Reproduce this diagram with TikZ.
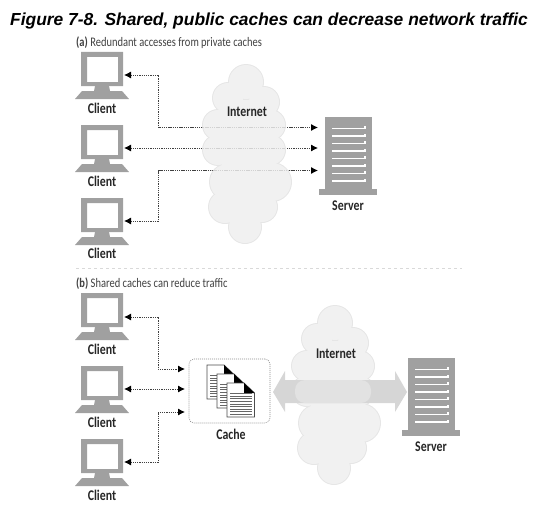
\documentclass[tikz,border=0pt]{standalone}
\usepackage{fontspec}
\setmainfont{Liberation Sans}
\newfontfamily\labelfont[FakeStretch=0.8]{Carlito}
\usetikzlibrary{arrows.meta}
\definecolor{devgray}{HTML}{A0A0A0}
\definecolor{cloudfill}{HTML}{F1F1F1}
\definecolor{cloudedge}{HTML}{E6E6E6}
\definecolor{linkgray}{HTML}{404040}
\definecolor{bandout}{HTML}{D6D6D6}
\definecolor{bandin}{HTML}{E2E2E2}
\tikzset{
  x=1pt,y=-1pt,
  link/.style={draw=linkgray,line width=0.9pt,dash pattern=on 1.3pt off 0.9pt},
  linktips/.style={link,{Latex[length=7pt,width=7pt,black]}-{Latex[length=7pt,width=7pt,black]}},
  faint/.style={draw=cloudedge!80!gray,line width=0.8pt,dash pattern=on 1.3pt off 0.9pt},
  lab/.style={font=\labelfont\bfseries\fontsize{14.8}{16}\selectfont,text=black!85,inner sep=0pt},
  captext/.style={font=\labelfont\fontsize{13.1}{15}\selectfont,text=black!75,inner sep=0pt,anchor=west},
  pics/client/.style={code={
    \fill[devgray,even odd rule] (-21,0) rectangle (21,34) (-15,5) rectangle (16,30);
    \fill[devgray] (-7,34) -- (7,34) -- (8,39) -- (20,39) -- (27,47) -- (-27,47) -- (-20,39) -- (-8,39) -- cycle;
  }},
  pics/serverbox/.style={code={
    \fill[devgray] (0,0) rectangle (47,72);
    \fill[devgray] (-6,72) rectangle (52,78);
    \foreach \k in {0,...,7}{
      \draw[white,line width=1.3pt] (7,11.5+7.5*\k) -- (40,11.5+7.5*\k) -- (40,9+7.5*\k);
    }
  }},
  pics/cloud/.style={code={
    \foreach \cx/\cy/\r in {246/82/17,228/98/15,264/102/15,218/125/15,270/125/15,218/150/15,270/150/15,272/182/19,228/182/18,225/207/16,262/207/15,245/227/16}{
      \fill[cloudedge] (\cx,\cy) circle (\r+1);
    }
    \foreach \cx/\cy/\r in {246/82/17,228/98/15,264/102/15,218/125/15,270/125/15,218/150/15,270/150/15,272/182/19,228/182/18,225/207/16,262/207/15,245/227/16}{
      \fill[cloudfill] (\cx,\cy) circle (\r);
    }
    \fill[cloudfill] (222,100) rectangle (268,215);
  }},
  pics/doc/.style={code={
    \fill[white,draw=black!70,line width=0.8pt] (0,0) -- (17,0) -- (27.5,10) -- (27.5,34) -- (0,34) -- cycle;
    \fill[black] (17,0) -- (27.5,10) -- (17,10) -- cycle;
    \foreach \k in {0,...,8}{
      \draw[black!60,line width=0.8pt] (3,10.5+2.6*\k) -- (24.5,10.5+2.6*\k);
    }
  }},
}
\begin{document}
\begin{tikzpicture}
\useasboundingbox (0,0) rectangle (543,511);
\node[font=\bfseries\itshape\fontsize{17.4}{20}\selectfont,inner sep=0pt] (title) at (269,21) {Figure 7-8. Shared, public caches can decrease network traffic};
\node[captext] (capa) at (76,43) {{\bfseries (a)} Redundant accesses from private caches};
\node[captext] (capb) at (76,284) {{\bfseries (b)} Shared caches can reduce traffic};
\coordinate (sepL) at (76,268);
\coordinate (sepR) at (462,268);
\draw[black!15,line width=0.8pt,dash pattern=on 3pt off 3pt] (sepL) -- (sepR);

% part (a) anchors
\coordinate (a1) at (124,75);  \coordinate (a2) at (124,148);  \coordinate (a3) at (124,221);
\coordinate (s1) at (318,127.5); \coordinate (s2) at (318,148); \coordinate (s3) at (318,170.5);
\coordinate (s1c) at (158,127.5); \coordinate (a1c) at (158,75);
\coordinate (s3c) at (158,170.5); \coordinate (a3c) at (158,221);
\draw[linktips] (a1) -- (a1c) -- (s1c) -- (s1);
\draw[linktips] (a2) -- (s2);
\draw[linktips] (a3) -- (a3c) -- (s3c) -- (s3);

\pic at (0,0) {cloud};
\coordinate (f1l) at (203,127.5); \coordinate (f1r) at (285,127.5);
\coordinate (f2l) at (203,148);   \coordinate (f2r) at (285,148);
\coordinate (f3l) at (211,170.5); \coordinate (f3r) at (291,170.5);
\draw[faint] (f1l) -- (f1r);
\draw[faint] (f2l) -- (f2r);
\draw[faint] (f3l) -- (f3r);
\node[lab] (neta) at (247,112) {Internet};

\pic at (102,52) {client};
\pic at (102,125) {client};
\pic at (102,198) {client};
\node[lab] (c1) at (102,108) {Client};
\node[lab] (c2) at (102,181) {Client};
\node[lab] (c3) at (102,253) {Client};
\pic at (325,117) {serverbox};
\node[lab] (srva) at (348,206) {Server};

% part (b)
\coordinate (b1) at (124,317); \coordinate (b2) at (124,389); \coordinate (b3) at (124,462);
\coordinate (t1) at (185,369); \coordinate (t2) at (185,389); \coordinate (t3) at (185,412);
\coordinate (b1c) at (158,317); \coordinate (t1c) at (158,369);
\coordinate (b3c) at (158,462); \coordinate (t3c) at (158,412);
\draw[linktips] (b1) -- (b1c) -- (t1c) -- (t1);
\draw[linktips] (b2) -- (t2);
\draw[linktips] (b3) -- (b3c) -- (t3c) -- (t3);

\pic at (89,241) {cloud};
\fill[bandout] (273,392) -- (285,371) -- (285,380) -- (395,380) -- (395,371) -- (407,392) -- (395,412) -- (395,403) -- (285,403) -- (285,412) -- cycle;
\fill[bandin,rounded corners=10pt] (295,380) rectangle (371,403);
\node[lab] (netb) at (336,354) {Internet};

\pic at (102,293) {client};
\pic at (102,366) {client};
\pic at (102,439) {client};
\node[lab] (c4) at (102,349) {Client};
\node[lab] (c5) at (102,422) {Client};
\node[lab] (c6) at (102,495) {Client};
\pic at (408,358) {serverbox};
\node[lab] (srvb) at (431,447) {Server};

\node[draw=black!45,line width=0.6pt,dash pattern=on 1pt off 1pt,rounded corners=5pt,minimum width=81pt,minimum height=64pt,inner sep=0pt] (cachebox) at (229.5,391) {};
\pic at (207,365) {doc};
\pic at (217,374) {doc};
\pic at (227,383) {doc};
\node[lab] (cachelab) at (231,434) {Cache};
\end{tikzpicture}
\end{document}
